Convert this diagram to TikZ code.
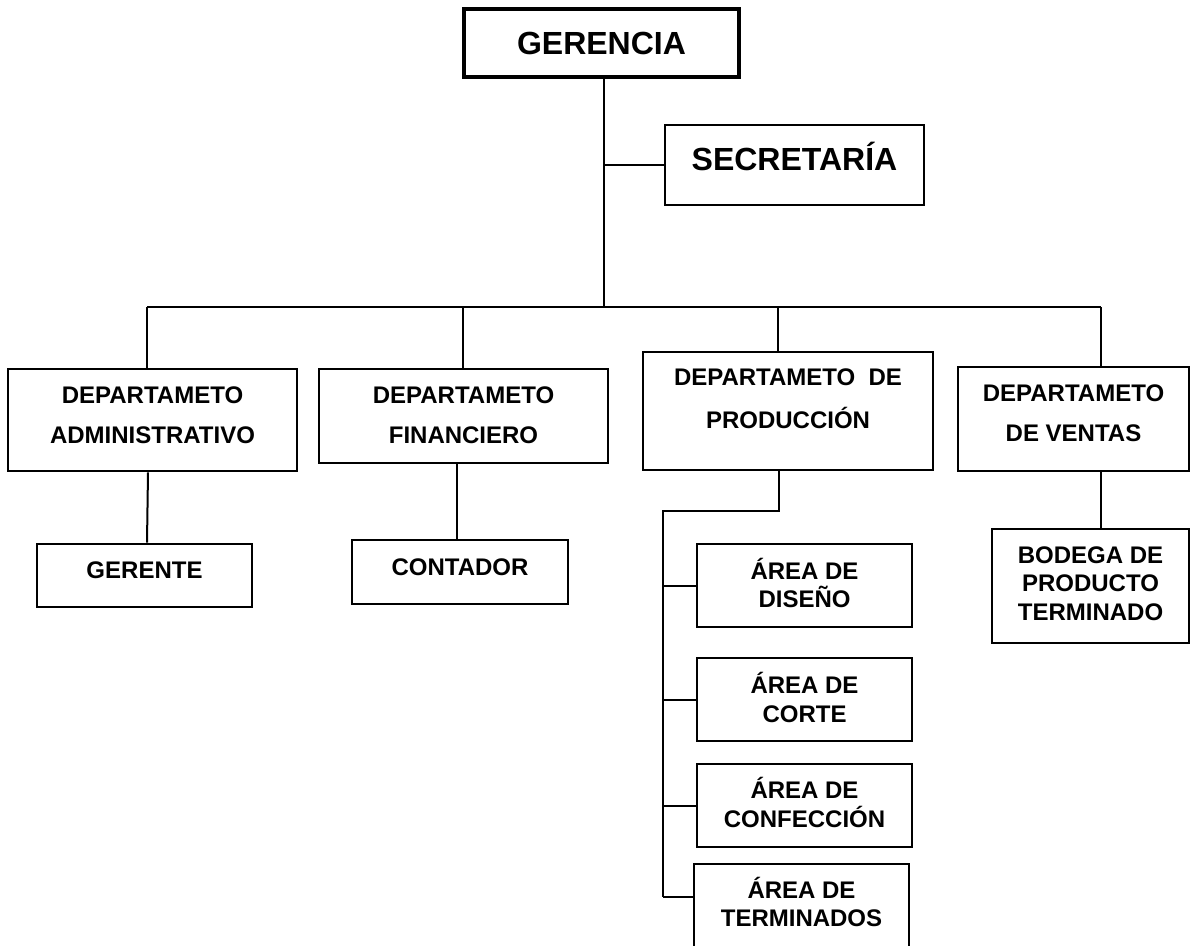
\documentclass[tikz,border=0pt]{standalone}
\usepackage{fontspec}
\setmainfont{Liberation Sans}

\begin{document}
\begin{tikzpicture}[x=1pt, y=-1pt,
   box/.style={draw, line width=2.8pt, inner sep=0pt},
   conn/.style={line width=2pt},
   big/.style={font=\bfseries\fontsize{32}{38}\selectfont},
   dept/.style={font=\bfseries\fontsize{24}{40}\selectfont, align=center},
   area/.style={font=\bfseries\fontsize{24}{28.5}\selectfont, align=center},]
   \clip (0,0) rectangle (1198,945);
   % gerencia y secretaria
   \node[box, line width=3.2pt, minimum width=275, minimum height=68, label={[big]center:GERENCIA}] (ger) at (601.5,43) {};
   \node[box, minimum width=259, minimum height=80, label={[big, yshift=9pt]center:SECRETARÍA}] (sec) at (794.5,165) {};

   % departamentos
   \node[box, minimum width=289, minimum height=102, label={[dept, yshift=5pt]center:{DEPARTAMETO\\ADMINISTRATIVO}}] (adm) at (152.5,420) {};
   \node[box, minimum width=289, minimum height=94, label={[dept, yshift=1pt]center:{DEPARTAMETO\\FINANCIERO}}] (fin) at (463.5,416) {};
   \node[box, minimum width=290, minimum height=118, label={[dept, font=\bfseries\fontsize{24}{43}\selectfont, yshift=12.5pt]center:{DEPARTAMETO\ \ DE\\PRODUCCIÓN}}] (prod) at (788,411) {};
   \node[box, minimum width=231, minimum height=104, label={[dept, yshift=6pt]center:{DEPARTAMETO\\DE VENTAS}}] (ven) at (1073.5,419) {};

   \node[box, minimum width=215, minimum height=63, label={[area, yshift=5.5pt]center:GERENTE}] (gte) at (144.5,575.5) {};
   \node[box, minimum width=216, minimum height=64, label={[area, yshift=5pt]center:CONTADOR}] (con) at (460,572) {};
   \node[box, minimum width=197, minimum height=114, label={[area, yshift=2.5pt]center:{BODEGA DE\\PRODUCTO\\TERMINADO}}] (bod) at (1090.5,586) {};

   % areas de produccion
   \node[box, minimum width=215, minimum height=83, label={[area, yshift=2.5pt]center:{ÁREA DE\\DISEÑO}}] (dis) at (804.5,585.5) {};
   \node[box, minimum width=215, minimum height=83, label={[area, yshift=2pt]center:{ÁREA DE\\CORTE}}] (cor) at (804.5,699.5) {};
   \node[box, minimum width=215, minimum height=83, label={[area, yshift=3pt]center:{ÁREA DE\\CONFECCIÓN}}] (conf) at (804.5,805.5) {};
   \node[box, minimum width=215, minimum height=86, label={[area, yshift=5pt]center:{ÁREA DE\\TERMINADOS}}] (ter) at (801.5,907) {};

   \coordinate (top) at (604,307);
   \coordinate (b1) at (147,307);
   \coordinate (b2) at (463,307);
   \coordinate (b3) at (778,307);
   \coordinate (b4) at (1101,307);
   \coordinate (pj) at (779,511);
   \coordinate (ps) at (663,511);
   \coordinate (tw) at ([yshift=10pt]ter.west);

   \draw[conn] (top |- ger.south) -- (top);
   \draw[conn] (top |- sec.west) -- (sec.west);
   \draw[conn] (b1) -- (b4);
   \foreach \b/\n in {b1/adm, b2/fin, b3/prod, b4/ven}
      \draw[conn] (\b) -- (\b |- \n.north);

   \draw[conn] ([xshift=1pt]b1 |- adm.south) -- (b1 |- gte.north);
   \draw[conn] ([xshift=-3pt]con.north |- fin.south) -- ([xshift=-3pt]con.north);
   \draw[conn] (b4 |- ven.south) -- (b4 |- bod.north);

   \draw[conn] (pj |- prod.south) -- (pj) -- (ps) -- (ps |- tw);
   \foreach \n in {dis, cor, conf}
      \draw[conn] (ps |- \n.west) -- (\n.west);
   \draw[conn] (ps |- tw) -- (tw);
\end{tikzpicture}
\end{document}
